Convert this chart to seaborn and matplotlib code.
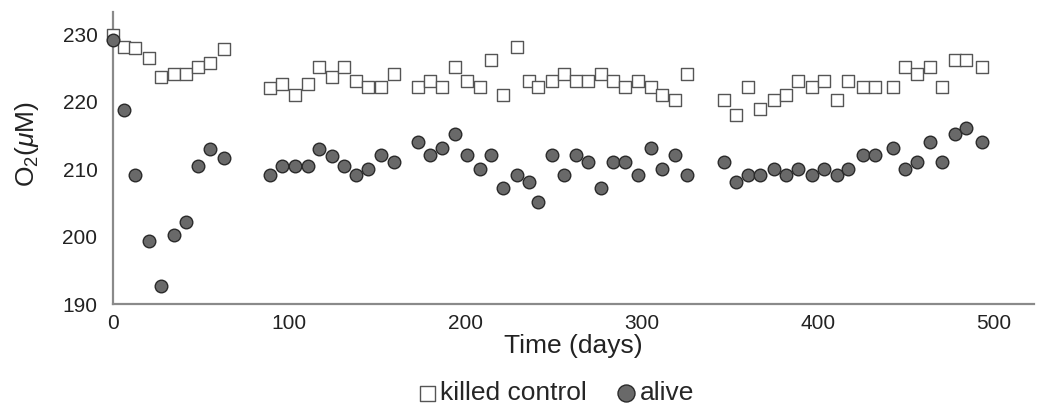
import matplotlib
matplotlib.use('Agg')
import matplotlib.pyplot as plt
import seaborn as sns
import pandas as pd

# sampling days
days = [0, 6.5, 12.8, 20.4, 27.5, 34.5, 41.3, 48.5, 55.4, 63.0,
        89.2, 96.3, 103.5, 110.7, 117.1, 124.3, 131.4, 137.8, 145.0, 152.5, 159.5,
        173.2, 180.3, 186.8, 194.0, 201.2, 208.3, 214.8, 221.7, 229.2, 236.3, 241.5,
        249.0, 256.2, 262.6, 269.8, 277.0, 284.1, 290.9, 298.1, 305.3, 311.7, 318.8, 326.0,
        346.8, 353.5, 360.3, 367.5, 375.0, 382.0, 388.6, 396.7, 403.7, 410.8, 417.4,
        425.7, 432.5, 442.7, 449.8, 456.4, 463.6, 470.8, 477.8, 484.3, 493.2]

killed_control = [229.9, 228.2, 228.0, 226.5, 223.7, 224.2, 224.2, 225.1, 225.8, 227.8,
                  222.0, 222.6, 221.0, 222.6, 225.1, 223.7, 225.1, 223.1, 222.2, 222.2, 224.2,
                  222.2, 223.1, 222.2, 225.1, 223.1, 222.2, 226.2, 221.0, 228.2, 223.1, 222.2,
                  223.1, 224.2, 223.1, 223.1, 224.2, 223.1, 222.2, 223.1, 222.2, 221.0, 220.2, 224.2,
                  220.2, 218.1, 222.2, 219.0, 220.2, 221.0, 223.1, 222.2, 223.1, 220.2, 223.1,
                  222.2, 222.2, 222.2, 225.1, 224.2, 225.1, 222.2, 226.2, 226.2, 225.1]

alive = [229.2, 218.8, 209.1, 199.3, 192.7, 200.2, 202.2, 210.5, 213.0, 211.6,
         209.1, 210.5, 210.5, 210.5, 213.0, 211.9, 210.5, 209.1, 210.0, 212.1, 211.1,
         214.1, 212.1, 213.2, 215.2, 212.1, 210.0, 212.1, 207.2, 209.1, 208.1, 205.1,
         212.1, 209.1, 212.1, 211.1, 207.2, 211.1, 211.1, 209.1, 213.2, 210.0, 212.1, 209.1,
         211.1, 208.1, 209.1, 209.1, 210.0, 209.1, 210.0, 209.1, 210.0, 209.1, 210.0,
         212.1, 212.1, 213.2, 210.0, 211.1, 214.1, 211.1, 215.2, 216.1, 214.1]

x_ticks = [0, 100, 200, 300, 400, 500]
y_ticks = [190, 200, 210, 220, 230]

sns.set_theme(style="white")
plt.rcParams['font.family'] = ['Liberation Sans', 'DejaVu Sans']
plt.rcParams['mathtext.fontset'] = 'custom'
plt.rcParams['mathtext.rm'] = 'Liberation Sans'
plt.rcParams['mathtext.it'] = 'Liberation Sans:italic'

df = pd.DataFrame({'day': days, 'killed': killed_control, 'alive': alive})

fig = plt.figure(figsize=(10.38, 4.07), dpi=100)
ax = fig.add_axes([0.1086, 0.253, 0.888, 0.717])

sns.scatterplot(data=df, x='day', y='killed', ax=ax, marker='s', s=64,
                facecolor='white', edgecolor='#555555', linewidth=1.0,
                label='killed control', zorder=3, clip_on=False)
sns.scatterplot(data=df, x='day', y='alive', ax=ax, marker='o', s=82,
                color='#696969', edgecolor='#2a2a2a', linewidth=1.0,
                label='alive', zorder=4, clip_on=False)

ax.set_xlim(0, 523)
ax.set_ylim(190, 233.3)
ax.set_xticks(x_ticks)
ax.set_yticks(y_ticks)
ax.tick_params(axis='both', length=0, labelsize=15, colors='#222222')
ax.tick_params(axis='y', pad=11)
ax.tick_params(axis='x', pad=7)

for side in ['top', 'right']:
    ax.spines[side].set_visible(False)
for side in ['left', 'bottom']:
    ax.spines[side].set_color('#8a8a8a')
    ax.spines[side].set_linewidth(1.6)

ax.set_xlabel('Time (days)', fontsize=19, color='#222222', labelpad=1)
ax.set_ylabel(r'O$_2$($\mu$M)', fontsize=19, color='#222222')
ax.yaxis.set_label_coords(-0.078, 0.55)

ax.legend(loc='center', bbox_to_anchor=(0.536, 0.034), bbox_transform=fig.transFigure,
          ncol=2, frameon=False, fontsize=19, handlelength=0.6, handletextpad=0.2,
          columnspacing=1.2, markerscale=1.35, borderaxespad=0, borderpad=0)

fig.savefig('out.png', dpi=100)
